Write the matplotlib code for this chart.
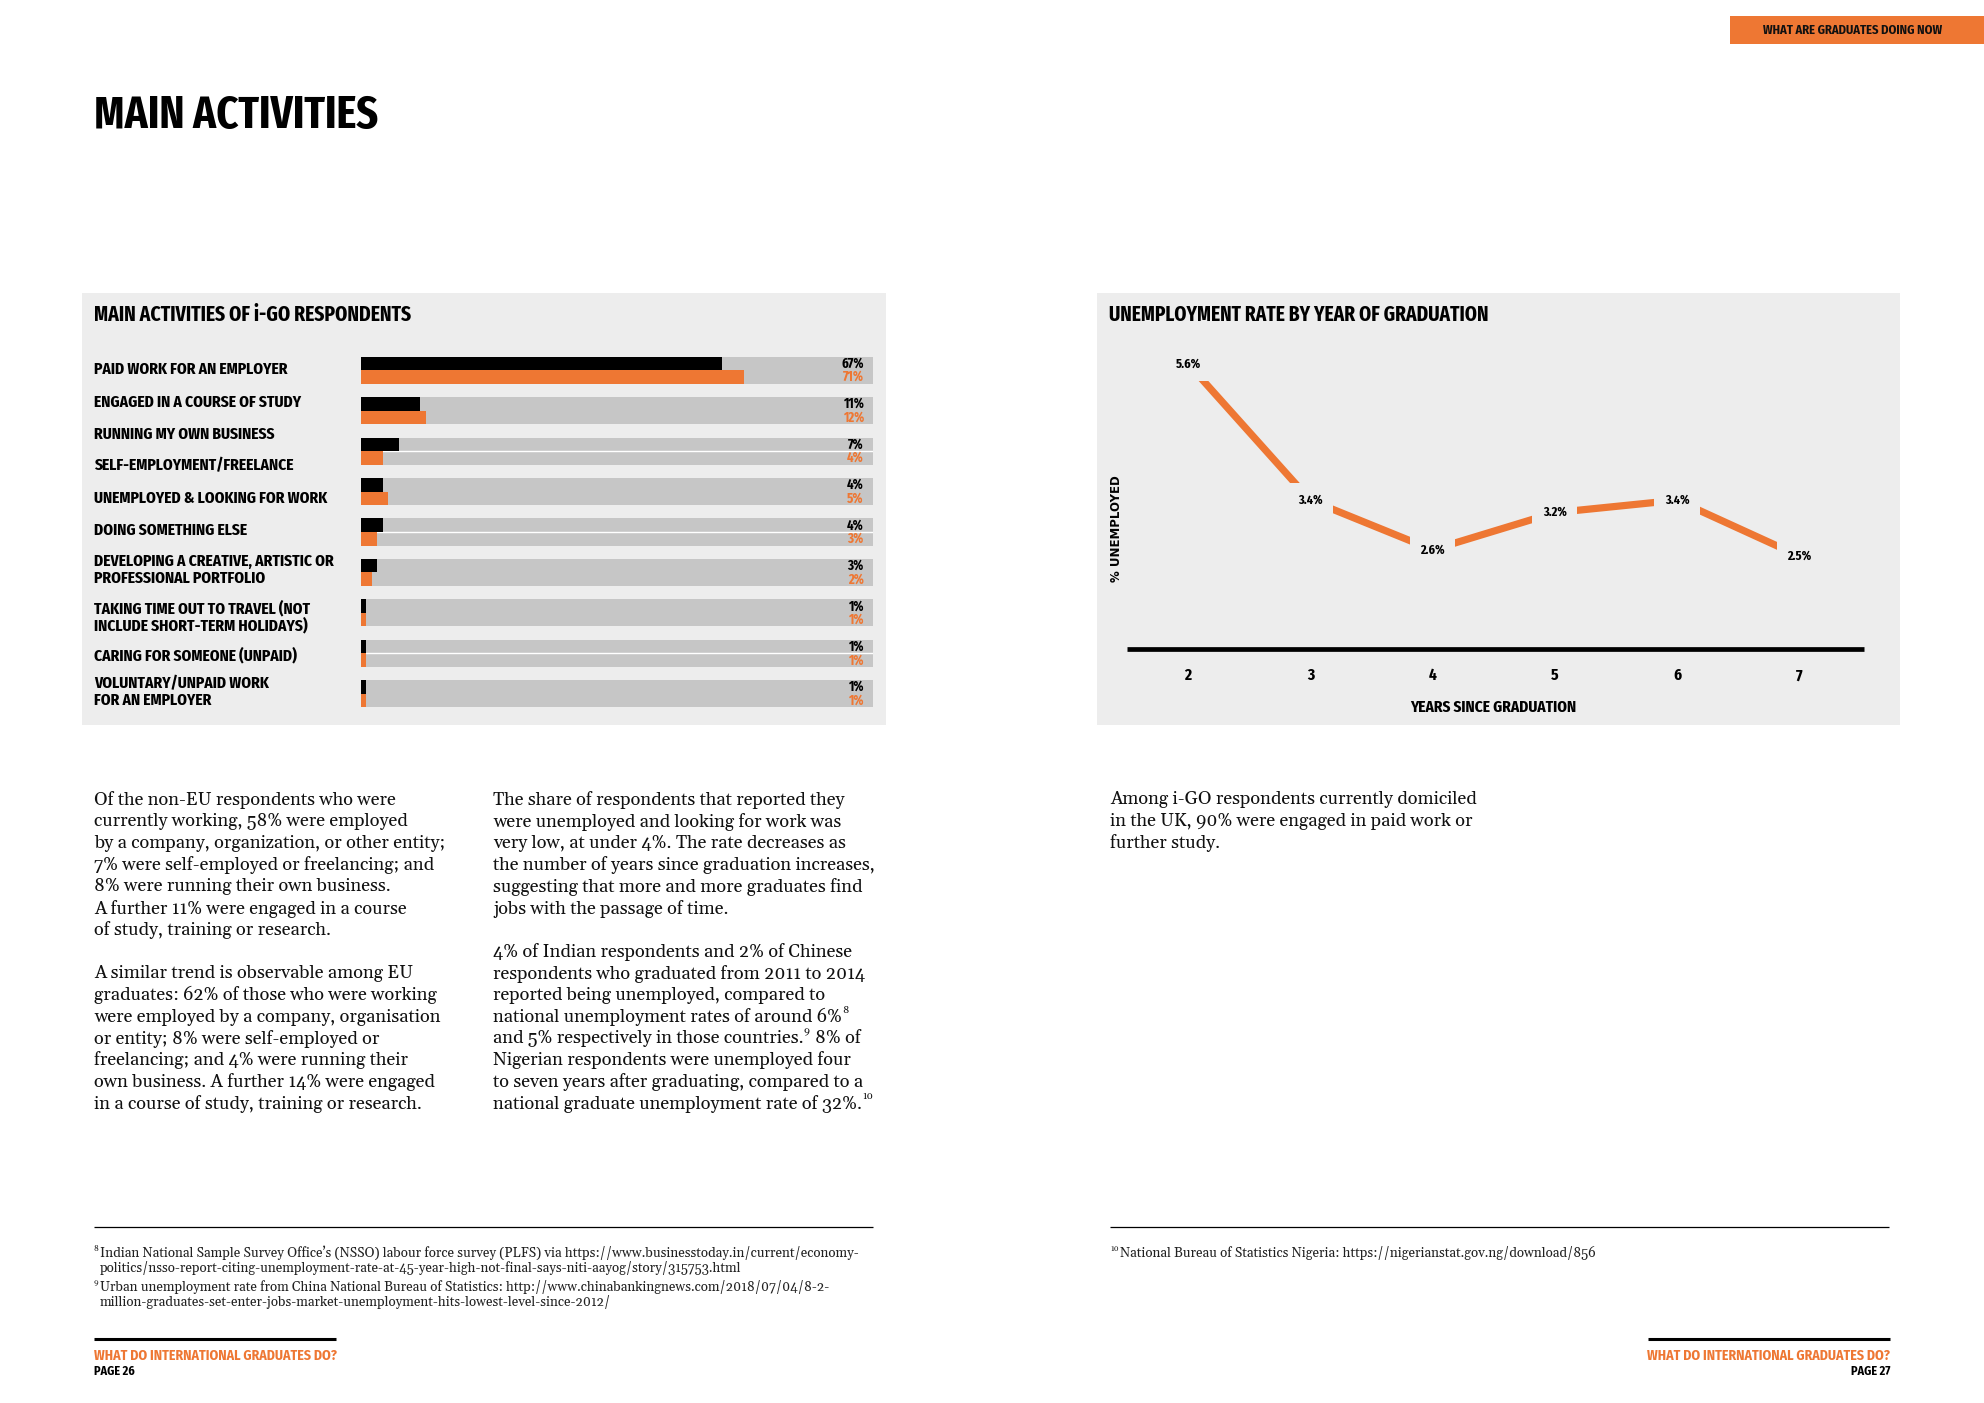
import matplotlib
matplotlib.use("Agg")
import numpy as np
import matplotlib.pyplot as plt
from matplotlib import font_manager as fm
from matplotlib.patches import Rectangle
from matplotlib.lines import Line2D
from matplotlib.transforms import blended_transform_factory

# ---------------- data ----------------
activity_labels = [
    "PAID WORK FOR AN EMPLOYER",
    "ENGAGED IN A COURSE OF STUDY",
    "RUNNING MY OWN BUSINESS",
    "SELF-EMPLOYMENT/FREELANCE",
    "UNEMPLOYED & LOOKING FOR WORK",
    "DOING SOMETHING ELSE",
    "DEVELOPING A CREATIVE, ARTISTIC OR\nPROFESSIONAL PORTFOLIO",
    "TAKING TIME OUT TO TRAVEL (NOT\nINCLUDE SHORT-TERM HOLIDAYS)",
    "CARING FOR SOMEONE (UNPAID)",
    "VOLUNTARY/UNPAID WORK\nFOR AN EMPLOYER",
]
series_black = [67, 11, 7, 4, 4, 3, 1, 1, 1]
series_orange = [71, 12, 4, 5, 3, 2, 1, 1, 1]

years_since = [2, 3, 4, 5, 6, 7]
unemployed_pct = [5.6, 3.4, 2.6, 3.2, 3.4, 2.5]

col1_lines = [
    "Of the non-EU respondents who were",
    "currently working, 58% were employed",
    "by a company, organization, or other entity;",
    "7% were self-employed or freelancing; and",
    "8% were running their own business.",
    "A further 11% were engaged in a course",
    "of study, training or research.",
    "",
    "A similar trend is observable among EU",
    "graduates: 62% of those who were working",
    "were employed by a company, organisation",
    "or entity; 8% were self-employed or",
    "freelancing; and 4% were running their",
    "own business. A further 14% were engaged",
    "in a course of study, training or research.",
]
col2_lines = [
    "The share of respondents that reported they",
    "were unemployed and looking for work was",
    "very low, at under 4%. The rate decreases as",
    "the number of years since graduation increases,",
    "suggesting that more and more graduates find",
    "jobs with the passage of time.",
    "",
    "4% of Indian respondents and 2% of Chinese",
    "respondents who graduated from 2011 to 2014",
    "reported being unemployed, compared to",
    "national unemployment rates of around 6%\u2078",
    "and 5% respectively in those countries.\u2079 8% of",
    "Nigerian respondents were unemployed four",
    "to seven years after graduating, compared to a",
    "national graduate unemployment rate of 32%.\u00b9\u2070",
]
col3_lines = [
    "Among i-GO respondents currently domiciled",
    "in the UK, 90% were engaged in paid work or",
    "further study.",
]
foot_left = [
    ("\u2078Indian National Sample Survey Office\u2019s (NSSO) labour force survey (PLFS) via https://www.businesstoday.in/current/economy-", 94, 1253),
    ("politics/nsso-report-citing-unemployment-rate-at-45-year-high-not-final-says-niti-aayog/story/315753.html", 100, 1268),
    ("\u2079Urban unemployment rate from China National Bureau of Statistics: http://www.chinabankingnews.com/2018/07/04/8-2-", 94, 1287),
    ("million-graduates-set-enter-jobs-market-unemployment-hits-lowest-level-since-2012/", 100, 1302),
]
foot_right = [
    ("\u00b9\u2070National Bureau of Statistics Nigeria: https://nigerianstat.gov.ng/download/856", 1110, 1253),
]

# ---------------- fonts / colours ----------------
avail = {f.name for f in fm.fontManager.ttflist}


def pick(cands, default):
    for c in cands:
        if c in avail:
            return c
    return default


COND = pick(["Fira Sans Extra Condensed", "Fjalla One", "Barlow Condensed", "Roboto Condensed"], "DejaVu Sans")
COND2 = pick(["Fira Sans Condensed", "Roboto Condensed", "Barlow Semi Condensed"], COND)
SERIF = pick(["Gelasio", "Libre Baskerville", "Liberation Serif"], "DejaVu Serif")
SERIF_L = [SERIF, "DejaVu Serif"]

ORANGE = "#EE7733"
PANEL = "#EDEDED"
TRACK = "#C6C6C6"

W, H, DPI = 1984, 1403, 100
fig = plt.figure(figsize=(W / DPI, H / DPI), dpi=DPI)
fig.patch.set_facecolor("white")
renderer = fig.canvas.get_renderer()


def X(px):
    return px / W


def Y(py):
    return 1 - py / H


def T(x, y, s, **kw):
    return fig.text(X(x), Y(y), s, **kw)


def rect(x0, y0, x1, y1, color):
    fig.add_artist(Rectangle((X(x0), Y(y1)), (x1 - x0) / W, (y1 - y0) / H,
                             transform=fig.transFigure, facecolor=color, edgecolor="none", zorder=0))


def hline(x0, x1, y, lw, color="black"):
    fig.add_artist(Line2D([X(x0), X(x1)], [Y(y), Y(y)], transform=fig.transFigure,
                          color=color, lw=lw, solid_capstyle="butt"))


SUP = {"\u2070": "0", "\u00b9": "1", "\u00b2": "2", "\u00b3": "3", "\u2074": "4",
       "\u2075": "5", "\u2076": "6", "\u2077": "7", "\u2078": "8", "\u2079": "9"}


def runs(s):
    out = []
    for ch in s:
        is_sup = ch in SUP
        c = SUP.get(ch, ch)
        if out and out[-1][1] == is_sup:
            out[-1][0] += c
        else:
            out.append([c, is_sup])
    return out


def rich(x, y, s, fontsize, color, sup_scale=0.58, rise=0.38):
    cx = x
    for txt, is_sup in runs(s):
        fs = fontsize * sup_scale if is_sup else fontsize
        dy = -fontsize * rise * DPI / 72 if is_sup else 0
        lead = len(txt) - len(txt.lstrip(" "))
        if lead:
            sp = T(0, 0, "a a", fontsize=fs, family=SERIF_L)
            sp2 = T(0, 0, "aa", fontsize=fs, family=SERIF_L)
            wsp = sp.get_window_extent(renderer).width - sp2.get_window_extent(renderer).width
            sp.remove(); sp2.remove()
            cx += wsp * lead
            txt = txt.lstrip(" ")
        t = T(cx, y + dy, txt, ha="left", va="center", fontsize=fs, family=SERIF_L, color=color)
        bb = t.get_window_extent(renderer)
        cx = bb.x1 + (1 if is_sup else 0)


# header tab
rect(1730, 16, 1984, 44, ORANGE)
T(1853, 30, "WHAT ARE GRADUATES DOING NOW", ha="center", va="center", fontsize=9,
  family=COND2, weight="bold", color="#111111")

# page title
T(94, 116, "MAIN ACTIVITIES", ha="left", va="center", fontsize=33, family=COND, weight="bold")

# panels
rect(82, 293, 886, 725, PANEL)
rect(1097, 293, 1900, 725, PANEL)
T(94, 315, "MAIN ACTIVITIES OF i-GO RESPONDENTS", ha="left", va="center", fontsize=15.3,
  family=COND, weight="bold")
T(1109, 315, "UNEMPLOYMENT RATE BY YEAR OF GRADUATION", ha="left", va="center", fontsize=15.1,
  family=COND, weight="bold")

# ---------------- bar chart ----------------
label_y_px = [369, 402, 434, 466, 498, 530, 570, 617, 655, 692]
for lab, yy in zip(activity_labels, label_y_px):
    T(94, yy, lab, ha="left", va="center", fontsize=12.1, family=COND, weight="bold",
      linespacing=1.05)

axb = fig.add_axes([X(361), Y(714), (873 - 361) / W, (714 - 350) / H])
axb.patch.set_visible(False)
axb.axis("off")
n = len(series_black)
idx = np.arange(n)
bh = 0.335
full = 95
axb.set_xlim(0, full)
axb.set_ylim(n - 0.5, -0.5)
axb.barh(idx, [full] * n, height=2 * bh, color=TRACK, zorder=1)
axb.hlines([2, 4, 7], 0, full, color="white", lw=1.0, zorder=1.5)
axb.barh(idx - bh / 2, series_black, height=bh, color="black", zorder=2)
axb.barh(idx + bh / 2, series_orange, height=bh, color=ORANGE, zorder=2)
tr = blended_transform_factory(axb.transAxes, axb.transData)
for i in range(n):
    axb.text(0.982, i - bh / 2, f"{series_black[i]}%", transform=tr, ha="right", va="center",
             fontsize=10, family=COND, weight="bold", color="black", zorder=3)
    axb.text(0.982, i + bh / 2, f"{series_orange[i]}%", transform=tr, ha="right", va="center",
             fontsize=10, family=COND, weight="bold", color=ORANGE, zorder=3)

# ---------------- line chart ----------------
axl = fig.add_axes([X(1127), Y(649), (1864 - 1127) / W, (649 - 339) / H])
axl.patch.set_visible(False)
axl.set_xlim(1.5, 7.53)
axl.set_ylim(1.0, 6.0)
for s in ["top", "right", "left"]:
    axl.spines[s].set_visible(False)
axl.spines["bottom"].set_linewidth(3.4)
axl.spines["bottom"].set_capstyle("butt")
axl.set_yticks([])
axl.set_xticks(years_since)
axl.set_xticklabels([str(v) for v in years_since])
axl.tick_params(axis="x", length=0, pad=13.5)
for lbl in axl.get_xticklabels():
    lbl.set_fontfamily(COND)
    lbl.set_fontweight("bold")
    lbl.set_fontsize(12)
axl.plot(years_since, unemployed_pct, color=ORANGE, lw=5.2, solid_capstyle="butt",
         solid_joinstyle="miter", zorder=2)
for xv, yv in zip(years_since, unemployed_pct):
    axl.text(xv, yv, f"{yv}%", ha="center", va="center", fontsize=9.5, family=COND,
             weight="bold", zorder=3,
             bbox=dict(boxstyle="square,pad=0.8", facecolor=PANEL, edgecolor="none"))
axl.set_xlabel("YEARS SINCE GRADUATION", fontsize=12, family=COND, weight="bold")
axl.xaxis.set_label_coords((1493 - 1127) / (1864 - 1127), (649 - 707) / (649 - 339))
axl.xaxis.label.set_va("center")
T(1117, 529, "% UNEMPLOYED", rotation=90, ha="center", va="center", fontsize=8.5,
  family="DejaVu Sans", weight="bold")

# ---------------- body text ----------------
pitch = 21.7
for col_lines, x0 in [(col1_lines, 94), (col2_lines, 493), (col3_lines, 1110)]:
    for k, line in enumerate(col_lines):
        if line:
            rich(x0, 800 + k * pitch, line, 13.1, "#111111")

# footnotes
hline(94, 873, 1227, 0.9)
hline(1110, 1889, 1227, 0.9)
for s, x0, y0 in foot_left + foot_right:
    rich(x0, y0, s, 9.6, "#222222", sup_scale=0.62, rise=0.3)

# footers
hline(94, 336, 1339, 2.2)
hline(1648, 1890, 1339, 2.2)
T(94, 1356, "WHAT DO INTERNATIONAL GRADUATES DO?", ha="left", va="center", fontsize=10,
  family=COND2, weight="bold", color=ORANGE)
T(94, 1371, "PAGE 26", ha="left", va="center", fontsize=8.8, family=COND2, weight="bold")
T(1890, 1356, "WHAT DO INTERNATIONAL GRADUATES DO?", ha="right", va="center", fontsize=10,
  family=COND2, weight="bold", color=ORANGE)
T(1890, 1371, "PAGE 27", ha="right", va="center", fontsize=8.8, family=COND2, weight="bold")

fig.savefig("out.png", dpi=DPI, facecolor="white")
